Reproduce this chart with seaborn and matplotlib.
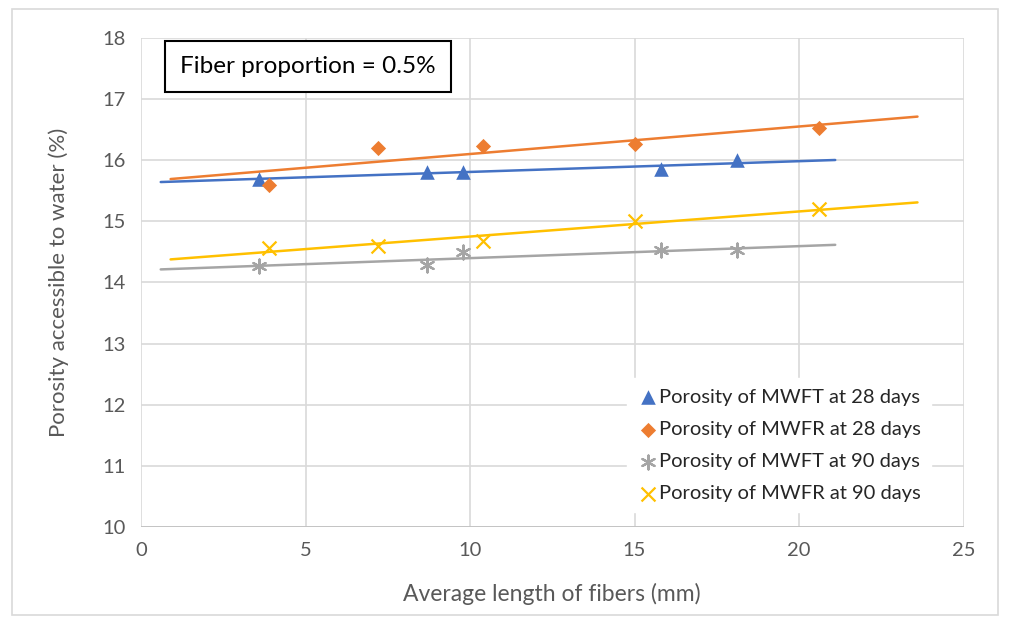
import numpy as np
import pandas as pd
import seaborn as sns
import matplotlib.pyplot as plt
from matplotlib.patches import Rectangle

# values
len_mwft = [3.6, 8.7, 9.8, 15.8, 18.1]
len_mwfr = [3.9, 7.2, 10.4, 15.0, 20.6]
por_mwft_28 = [15.70, 15.80, 15.80, 15.85, 16.00]
por_mwfr_28 = [15.60, 16.20, 16.23, 16.27, 16.53]
por_mwft_90 = [14.27, 14.28, 14.50, 14.53, 14.53]
por_mwfr_90 = [14.57, 14.60, 14.68, 15.00, 15.20]

labels = ['Porosity of MWFT at 28 days', 'Porosity of MWFR at 28 days',
          'Porosity of MWFT at 90 days', 'Porosity of MWFR at 90 days']
colors = ['#4472C4', '#ED7D31', '#A5A5A5', '#FFC000']
markers = ['^', 'D', (6, 2, 0), 'x']
sizes = [110, 60, 100, 100]

series = [(len_mwft, por_mwft_28), (len_mwfr, por_mwfr_28),
          (len_mwft, por_mwft_90), (len_mwfr, por_mwfr_90)]

sns.set_style('white')
plt.rcParams['font.family'] = ['Lato', 'DejaVu Sans']

fig = plt.figure(figsize=(10.1, 6.21), dpi=100)
ax = fig.add_axes([0.1396, 0.1514, 0.8144, 0.7874])

for (x, y), lab, c, m, s in zip(series, labels, colors, markers, sizes):
    # excel style linear trendline, forecast 3 units both ways
    k, b = np.polyfit(x, y, 1)
    xs = np.array([min(x) - 3, max(x) + 3])
    ax.plot(xs, k * xs + b, color=c, lw=1.8, zorder=2)
    df = pd.DataFrame({'x': x, 'y': y})
    sns.scatterplot(data=df, x='x', y='y', ax=ax, color=c, marker=m, s=s,
                    linewidth=1.6 if m in ('x', (6, 2, 0)) else 0,
                    edgecolor=c, label=lab, zorder=3)

ax.set_xlim(0, 25)
ax.set_ylim(10, 18)
ax.set_xticks(range(0, 26, 5))
ax.set_yticks(range(10, 19))
ax.grid(True, color='#D9D9D9', lw=1.2)
for sp in ax.spines.values():
    sp.set_visible(False)
ax.axhline(10, color='#BFBFBF', lw=1.2, zorder=1)
ax.tick_params(axis='both', length=0, labelsize=14.5, colors='#595959', pad=11)

ax.set_xlabel('Average length of fibers (mm)', fontsize=16.5, color='#595959', labelpad=17)
ax.set_ylabel('Porosity accessible to water (%)', fontsize=16, color='#595959', labelpad=24)

leg = ax.legend(loc='lower right', frameon=True, fontsize=14.5, handletextpad=0.05,
                borderaxespad=0.0, labelspacing=0.75, handlelength=1.0,
                borderpad=0.5, bbox_to_anchor=(0.96, 0.03))
leg.get_frame().set_edgecolor('white')
leg.get_frame().set_facecolor('white')
leg.get_frame().set_alpha(1)
leg.get_frame().set_boxstyle('square', pad=0)
for t in leg.get_texts():
    t.set_color('#262626')

ax.text(0.048, 0.941, 'Fiber proportion = 0.5%', transform=ax.transAxes,
        fontsize=17.5, color='black', va='center', ha='left',
        bbox=dict(boxstyle='square,pad=0.62', fc='white', ec='black', lw=1.5),
        zorder=5)

# outer chart border
fig.patches.append(Rectangle((0.012, 0.01), 0.976, 0.975, transform=fig.transFigure,
                             fill=False, ec='#D9D9D9', lw=1.2))

fig.savefig('out.png', dpi=100)
